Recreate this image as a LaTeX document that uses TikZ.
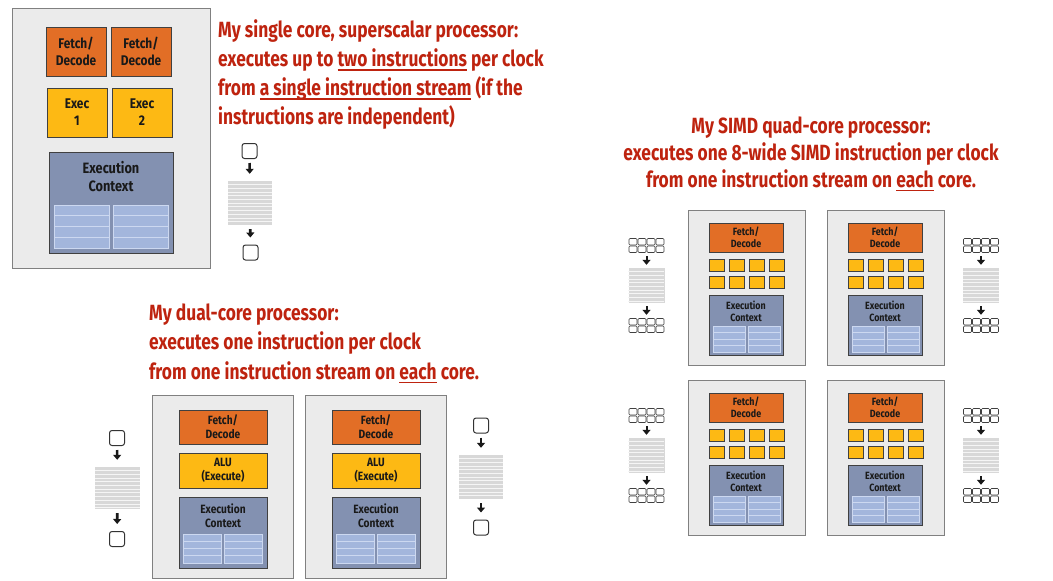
\documentclass[tikz,border=0pt]{standalone}
\usepackage{fontspec}
\setmainfont{Fira Sans}
\newfontfamily\headfont{Fira Sans}[FakeStretch=0.79]
\newfontfamily\boxfont{Fira Sans}[FakeStretch=0.85]
\usetikzlibrary{arrows.meta,positioning}

\definecolor{headred}{RGB}{190,35,15}
\definecolor{coregray}{RGB}{235,235,235}
\definecolor{coreedge}{RGB}{128,128,128}
\definecolor{fetchorange}{RGB}{226,110,38}
\definecolor{aluyellow}{RGB}{253,185,20}
\definecolor{ctxblue}{RGB}{131,145,177}
\definecolor{regblue}{RGB}{163,182,220}
\definecolor{regline}{RGB}{204,216,240}
\definecolor{streamgray}{RGB}{216,216,216}

% underlined words in the notes
\newsavebox{\undlbox}
\newcommand{\undl}[1]{\sbox{\undlbox}{#1}\rlap{\rule[-4pt]{\wd\undlbox}{1.2pt}}\usebox{\undlbox}}

\tikzset{
  core/.style={draw=coreedge,fill=coregray,line width=1pt,inner sep=0pt},
  unit/.style={draw=black!75,line width=0.9pt,inner sep=0pt,align=center,text=black!90},
  fetchbox/.style={unit,fill=fetchorange},
  alubox/.style={unit,fill=aluyellow},
  ctxbox/.style={unit,fill=ctxblue},
  ctxlabel/.style={anchor=north,inner sep=0pt,align=center,text=black!90},
  regcell/.style={fill=regblue,draw=regline,line width=0.7pt},
  lane/.style={unit,fill=aluyellow,minimum width=15.5,minimum height=12.5},
  instr/.style={draw=black!80,fill=white,rounded corners=2.5pt,line width=1pt,minimum size=15,inner sep=0pt},
  tinyinstr/.style={draw=black!75,fill=white,rounded corners=1pt,line width=0.6pt},
  stream/.style={fill=streamgray,inner sep=0pt},
  flow/.style={-{Triangle[length=5pt,width=8pt]},line width=2.6pt,black!90,shorten <=4pt,shorten >=7pt},
  smallflow/.style={flow,line width=2pt,shorten <=3pt,shorten >=3pt},
  headline/.style={text=headred,inner sep=0pt,font=\headfont\bfseries\fontsize{22}{29}\selectfont},
  bigtext/.style={font=\boxfont\bfseries\fontsize{14}{17}\selectfont},
  midtext/.style={font=\boxfont\bfseries\fontsize{12}{14}\selectfont},
  smalltext/.style={font=\boxfont\bfseries\fontsize{10.5}{12}\selectfont},
}

% name, x, y, width, height, number of stripes
\newcommand{\instrstream}[6]{%
  \node[stream,minimum width=#4,minimum height=#5] (#1) at (#2,#3) {};
  \foreach \k in {1,...,#6}
    \draw[white!75!streamgray,line width=0.6pt] (#1.north west) ++(0,3.7*\k) -- ++(#4,0);}
% name, x, y : 4x2 group of instructions
\newcommand{\instrgrid}[3]{%
  \node[inner sep=0pt,minimum width=36,minimum height=15] (#1) at (#2,#3) {};
  \foreach \i in {0,...,3}
    \foreach \j in {0,1}
      \draw[tinyinstr] (#2-17.5+9*\i,#3-7+7.5*\j) rectangle ++(8,6.5);}

\begin{document}
\begin{tikzpicture}[x=1pt,y=-1pt]
  \useasboundingbox (0,0) rectangle (1053,581);

  % single core, superscalar
  \node[core,minimum width=198,minimum height=260] (sc) at (111,138) {};
  \node[fetchbox,bigtext,minimum width=60,minimum height=49] (scfd1) at (76,51.5) {Fetch/\\Decode};
  \node[fetchbox,bigtext,minimum width=60,minimum height=49] (scfd2) at (141,51.5) {Fetch/\\Decode};
  \node[alubox,bigtext,minimum width=60,minimum height=49] (scex1) at (77,112.5) {Exec\\1};
  \node[alubox,bigtext,minimum width=60,minimum height=49] (scex2) at (142,112.5) {Exec\\2};
  \node[ctxbox,minimum width=124,minimum height=101] (scctx) at (111,202.5) {};
  \node[ctxlabel,font=\boxfont\bfseries\fontsize{15}{18}\selectfont,yshift=-10] (scctxl) at (scctx.north) {Execution\\Context};
  \foreach \c in {54,113}
    \foreach \r in {0,...,3}
      \draw[regcell] (\c,205+10.75*\r) rectangle ++(55,10.75);

  \node[headline,anchor=base west,align=left] (scnote) at (218,124.5)
    {My single core, superscalar processor:\\
     executes up to \undl{two instructions} per clock\\
     from \undl{a single instruction stream} (if the\\
     instructions are independent)};

  \node[instr] (scin) at (249.5,151) {};
  \instrstream{scst}{250}{203}{44}{44}{11}
  \node[instr] (scout) at (250.5,252.5) {};
  \draw[flow] (scin) -- (scst);
  \draw[flow] (scst) -- (scout);

  % dual core
  \node[headline,anchor=base west,align=left,font=\headfont\bfseries\fontsize{22}{29.5}\selectfont] (dcnote) at (149,379)
    {My dual-core processor:\\
     executes one instruction per clock\\
     from one instruction stream on \undl{each} core.};

  \foreach \x/\n in {0/a,153/b}{
    \begin{scope}[xshift=\x]
      \node[core,minimum width=141,minimum height=183] (dc\n) at (222.5,486.5) {};
      \node[fetchbox,midtext,minimum width=88,minimum height=34] (dc\n fd) at (223,427) {Fetch/\\Decode};
      \node[alubox,midtext,minimum width=88,minimum height=35] (dc\n alu) at (223,470.5) {ALU\\(Execute)};
      \node[ctxbox,minimum width=88,minimum height=71] (dc\n ctx) at (223,532.5) {};
      \node[ctxlabel,midtext,yshift=-7] (dc\n ctxl) at (dc\n ctx.north) {Execution\\Context};
      \foreach \c in {183,224}
        \foreach \r in {0,...,3}
          \draw[regcell] (\c,534+7.25*\r) rectangle ++(38,7.25);
    \end{scope}
  }

  \node[instr] (dcain) at (117,438) {};
  \instrstream{dcast}{117.5}{488}{45}{42}{11}
  \node[instr] (dcaout) at (117,539) {};
  \draw[flow] (dcain) -- (dcast);
  \draw[flow] (dcast) -- (dcaout);

  \node[instr] (dcbin) at (481,425.5) {};
  \instrstream{dcbst}{481}{477}{44}{44}{11}
  \node[instr] (dcbout) at (481,527.5) {};
  \draw[flow] (dcbin) -- (dcbst);
  \draw[flow] (dcbst) -- (dcbout);

  % SIMD quad core
  \node[headline,anchor=base,align=center,font=\headfont\bfseries\fontsize{22}{27}\selectfont] (qcnote) at (811,187)
    {My SIMD quad-core processor:\\
     executes one 8-wide SIMD instruction per clock\\
     from one instruction stream on \undl{each} core.};

  \foreach \x/\y/\n in {688/210/tl,827/210/tr,688/380/bl,827/380/br}{
    \begin{scope}[shift={(\x,\y)}]
      \node[core,minimum width=117,minimum height=155] (q\n) at (58.5,77.5) {};
      \node[fetchbox,smalltext,minimum width=74,minimum height=29] (q\n fd) at (58,27.5) {Fetch/\\Decode};
      \foreach \i in {0,...,3}
        \foreach \j in {0,1}
          \node[lane] (q\n lane\i\j) at (28.75+20*\i,55.25+17*\j) {};
      \node[ctxbox,minimum width=74,minimum height=60] (q\n ctx) at (58,115) {};
      \node[ctxlabel,smalltext,yshift=-6] (q\n ctxl) at (q\n ctx.north) {Execution\\Context};
      \foreach \c in {25,60}
        \foreach \r in {0,...,3}
          \draw[regcell] (\c,116+6.5*\r) rectangle ++(32,6.5);
    \end{scope}
  }

  \foreach \x/\s in {646.5/l,981/r}
    \foreach \y/\t in {0/t,170/b}{
      \instrgrid{qi\s\t}{\x}{245.5+\y}
      \instrstream{qs\s\t}{\x}{285.5+\y}{36}{35}{9}
      \instrgrid{qo\s\t}{\x}{325.5+\y}
      \draw[smallflow] (qi\s\t) -- (qs\s\t);
      \draw[smallflow] (qs\s\t) -- (qo\s\t);
    }
\end{tikzpicture}
\end{document}
